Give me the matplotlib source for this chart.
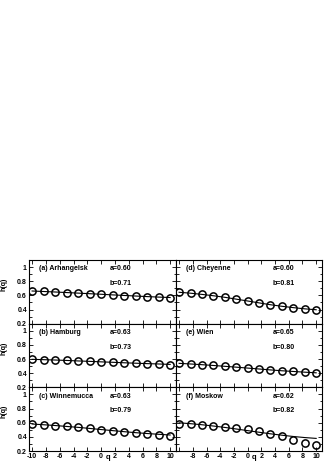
import matplotlib
matplotlib.use("Agg")
import matplotlib.pyplot as plt
from matplotlib.ticker import MultipleLocator, FixedLocator

plt.rcParams['font.family'] = ['Liberation Sans', 'DejaVu Sans']
plt.rcParams['font.weight'] = 'bold'

q = [-10, -8.33, -6.67, -5, -3.33, -1.67, 0, 1.67, 3.33, 5, 6.67, 8.33, 10]

names = ["(a) Arhangelsk", "(b) Hamburg", "(c) Winnemucca",
         "(d) Cheyenne", "(e) Wien", "(f) Moskow"]
a_vals = ["0.60", "0.63", "0.63", "0.60", "0.65", "0.62"]
b_vals = ["0.71", "0.73", "0.79", "0.81", "0.80", "0.82"]

h_arh = [0.660, 0.655, 0.647, 0.640, 0.633, 0.623, 0.616, 0.607, 0.598, 0.591, 0.583, 0.577, 0.566]
h_ham = [0.598, 0.592, 0.586, 0.580, 0.574, 0.567, 0.561, 0.554, 0.547, 0.541, 0.535, 0.529, 0.522]
h_win = [0.585, 0.570, 0.560, 0.547, 0.534, 0.520, 0.503, 0.488, 0.472, 0.458, 0.445, 0.430, 0.412]
h_che = [0.650, 0.632, 0.615, 0.595, 0.573, 0.548, 0.521, 0.494, 0.468, 0.446, 0.427, 0.410, 0.397]
h_wie = [0.540, 0.530, 0.520, 0.509, 0.497, 0.485, 0.472, 0.459, 0.446, 0.434, 0.424, 0.414, 0.403]
h_mos = [0.585, 0.586, 0.572, 0.555, 0.540, 0.524, 0.505, 0.478, 0.444, 0.405, 0.355, 0.318, 0.290]

fit_arh = [0.662, 0.655, 0.648, 0.640, 0.632, 0.624, 0.616, 0.607, 0.599, 0.591, 0.583, 0.576, 0.570]
fit_ham = [0.596, 0.591, 0.586, 0.580, 0.573, 0.567, 0.560, 0.554, 0.547, 0.541, 0.535, 0.530, 0.524]
fit_win = [0.581, 0.571, 0.560, 0.547, 0.534, 0.519, 0.503, 0.488, 0.473, 0.459, 0.447, 0.436, 0.426]
fit_che = [0.644, 0.631, 0.614, 0.595, 0.573, 0.547, 0.521, 0.494, 0.468, 0.446, 0.427, 0.410, 0.397]
fit_wie = [0.539, 0.530, 0.520, 0.509, 0.497, 0.485, 0.472, 0.459, 0.446, 0.434, 0.424, 0.414, 0.405]
fit_mos = [0.598, 0.586, 0.571, 0.553, 0.533, 0.511, 0.488, 0.465, 0.443, 0.423, 0.405, 0.390, 0.378]

data = [h_arh, h_ham, h_win, h_che, h_wie, h_mos]
fits = [fit_arh, fit_ham, fit_win, fit_che, fit_wie, fit_mos]

xticks = [-10, -8, -6, -4, -2, 0, 2, 4, 6, 8, 10]
yticks = [0.2, 0.4, 0.6, 0.8, 1.0]
ylabels = ["0.2", "0.4", "0.6", "0.8", "1"]

W, H = 324, 463
fig = plt.figure(figsize=(W / 100, H / 100), dpi=100)

cols = [(29, 147), (176, 146)]
rows = [(260, 323.7), (323.7, 387.3), (387.3, 451)]
fs = 5

for i in range(6):
    c = i // 3
    r = i % 3
    x0, w = cols[c]
    top, bot = rows[r]
    ax = fig.add_axes([x0 / W, 1 - bot / H, w / W, (bot - top) / H])
    ax.plot(q, fits[i], color='black', lw=0.8, zorder=2)
    ax.plot(q, data[i], linestyle='none', marker='o', ms=5.2, mfc='none',
            mec='black', mew=1.1, zorder=3)
    ax.set_xlim(-10.45, 10.85)
    ax.set_ylim(0.2, 1.1)
    ax.yaxis.set_major_locator(FixedLocator(yticks))
    ax.yaxis.set_minor_locator(MultipleLocator(0.1))
    ax.xaxis.set_major_locator(FixedLocator(xticks))
    ax.tick_params(which='both', direction='in', top=True, right=True,
                   labelsize=fs, pad=1.5, width=0.6)
    ax.tick_params(which='major', length=3)
    ax.tick_params(which='minor', length=1.8)
    for s in ax.spines.values():
        s.set_linewidth(0.8)
    if c == 0:
        ax.set_yticklabels(ylabels)
        ax.text(-0.17, 0.62, "h(q)", transform=ax.transAxes, rotation=90,
                fontsize=fs, ha='center', va='center')
    else:
        ax.set_yticklabels([])
    if r == 2:
        labs = [str(t) for t in xticks]
        if c == 1:
            labs[0] = ""
        ax.set_xticklabels(labs)
        ax.text(1.0, -0.04, "q", transform=ax.get_xaxis_transform(),
                fontsize=fs + 0.5, ha='center', va='top')
    else:
        ax.set_xticklabels([])
    ax.text(0.068, 0.86, names[i], transform=ax.transAxes, fontsize=fs,
            ha='left', va='center')
    ax.text(0.55 if c == 0 else 0.66, 0.86, "a=" + a_vals[i],
            transform=ax.transAxes, fontsize=fs, ha='left', va='center')
    ax.text(0.55 if c == 0 else 0.66, 0.63, "b=" + b_vals[i],
            transform=ax.transAxes, fontsize=fs, ha='left', va='center')

fig.savefig("out.png", dpi=100)
